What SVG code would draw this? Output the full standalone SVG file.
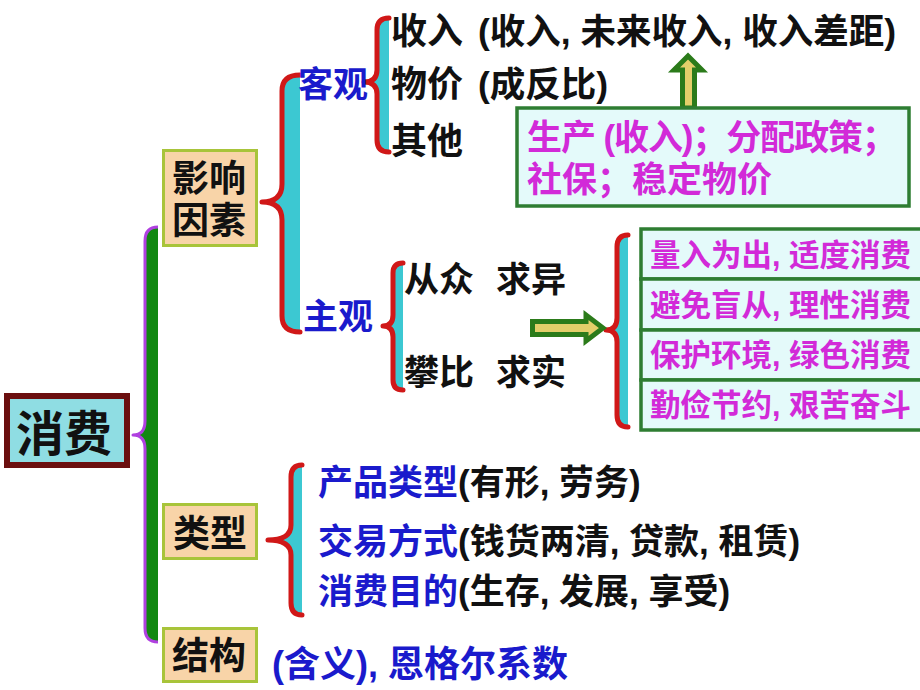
<svg xmlns="http://www.w3.org/2000/svg" width="920" height="690" viewBox="0 0 920 690">
<style>
.t{font-family:"Liberation Sans","Noto Sans CJK SC",sans-serif;font-weight:bold;}
.blk{fill:#111111;}
.blu{fill:#1A1ACC;}
.mag{fill:#D22AD8;}
.peach{fill:#F8D4A8;stroke:#A8C43A;stroke-width:3;}
.gbox{fill:#E4FAFA;stroke:#2E7D32;stroke-width:3.5;}
.rb{fill:none;stroke:#D01818;stroke-width:5;stroke-linecap:round;stroke-linejoin:round;}
.rf{fill:#3CC8D2;stroke:none;}
.arr{fill:#E3CF6A;stroke:#2B7B1A;stroke-width:5;stroke-linejoin:miter;}
</style>
<rect width="920" height="690" fill="#FFFFFF"/>

<g id="connectors">
  <path d="M158,227 Q145,227 145,241 L145,421 Q145,435 133,435 Q145,435 145,449 L145,628 Q145,642 158,642 Z" fill="#118811"/>
  <path d="M158,227 Q145,227 145,241 L145,421 Q145,435 133,435 Q145,435 145,449 L145,628 Q145,642 158,642" fill="none" stroke="#B040E0" stroke-width="3" stroke-linejoin="round"/>
  <path class="rf" d="M300,75 Q282,75 282,91 L282,184 Q282,202 262,202 Q282,202 282,220 L282,316 Q282,332 300,332 Z"/>
  <path class="rb" d="M300,75 Q282,75 282,91 L282,184 Q282,202 262,202 Q282,202 282,220 L282,316 Q282,332 300,332"/>
  <path class="rf" d="M389,18 Q377,18 377,30 L377,70 Q377,82 364,82 Q377,82 377,94 L377,140 Q377,152 389,152 Z"/>
  <path class="rb" d="M389,18 Q377,18 377,30 L377,70 Q377,82 364,82 Q377,82 377,94 L377,140 Q377,152 389,152"/>
  <path class="rf" d="M403,263 Q393,263 393,273 L393,315 Q393,326 383,326 Q393,326 393,337 L393,380 Q393,390 403,390 Z"/>
  <path class="rb" d="M403,263 Q393,263 393,273 L393,315 Q393,326 383,326 Q393,326 393,337 L393,380 Q393,390 403,390"/>
  <path class="rf" d="M628,235 Q617,235 617,247 L617,318 Q617,330 606,330 Q617,330 617,342 L617,415 Q617,427 628,427 Z"/>
  <path class="rb" d="M628,235 Q617,235 617,247 L617,318 Q617,330 606,330 Q617,330 617,342 L617,415 Q617,427 628,427"/>
  <path class="rf" d="M302,465 Q291,465 291,477 L291,525 Q291,540 268,540 Q291,540 291,555 L291,603 Q291,615 302,615 Z"/>
  <path class="rb" d="M302,465 Q291,465 291,477 L291,525 Q291,540 268,540 Q291,540 291,555 L291,603 Q291,615 302,615"/>
  <polygon class="arr" points="688,56 702,70 694.5,70 694.5,108 682.5,108 682.5,70 674,70"/>
  <polygon class="arr" points="532.5,321.5 586,321.5 586,315 603,328 586,341 586,334.5 532.5,334.5"/>
</g>

<g id="node-xiaofei">
  <rect x="7" y="396" width="120" height="69" fill="#8FDDE3" stroke="#6B0F0F" stroke-width="6"/>
  <text class="t blk" x="16" y="451" font-size="48">消费</text>
</g>

<g id="node-yingxiang">
  <rect class="peach" x="163.5" y="150.5" width="93" height="95"/>
  <text class="t blk" x="172" y="192" font-size="37">影响</text>
  <text class="t blk" x="172" y="234" font-size="37">因素</text>
</g>

<g id="node-keguan">
  <text class="t blu" x="298" y="97" font-size="35">客观</text>
</g>
<g id="node-zhuguan">
  <text class="t blu" x="303" y="329" font-size="35">主观</text>
</g>

<g id="node-keguan-items">
  <text class="t blk" x="391" y="44" font-size="36">收入</text>
  <text class="t blk" x="478" y="44" font-size="35.5">(收入, 未来收入, 收入差距)</text>
  <text class="t blk" x="391" y="97" font-size="36">物价</text>
  <text class="t blk" x="478" y="97" font-size="35.5">(成反比)</text>
  <text class="t blk" x="391" y="154" font-size="36">其他</text>
</g>

<g id="node-measures">
  <rect class="gbox" x="517" y="108" width="392" height="98"/>
  <text class="t mag" x="527" y="150" font-size="35" textLength="370" lengthAdjust="spacing">生产 (收入)；分配政策；</text>
  <text class="t mag" x="527" y="192" font-size="35">社保；稳定物价</text>
</g>

<g id="node-zhuguan-items">
  <text class="t blk" x="404" y="292" font-size="35">从众</text>
  <text class="t blk" x="496" y="292" font-size="35">求异</text>
  <text class="t blk" x="404" y="385" font-size="35">攀比</text>
  <text class="t blk" x="496" y="385" font-size="35">求实</text>
</g>

<g id="node-principles">
  <rect class="gbox" x="641" y="229" width="290" height="50"/>
  <rect class="gbox" x="641" y="279" width="290" height="51"/>
  <rect class="gbox" x="641" y="330" width="290" height="50"/>
  <rect class="gbox" x="641" y="380" width="290" height="50"/>
  <text class="t mag" x="650" y="266" font-size="30.5">量入为出, 适度消费</text>
  <text class="t mag" x="650" y="316" font-size="30.5">避免盲从, 理性消费</text>
  <text class="t mag" x="650" y="366" font-size="30.5">保护环境, 绿色消费</text>
  <text class="t mag" x="650" y="416" font-size="30.5">勤俭节约, 艰苦奋斗</text>
</g>

<g id="node-leixing">
  <rect class="peach" x="163.5" y="504.5" width="93" height="54"/>
  <text class="t blk" x="173" y="547" font-size="37">类型</text>
</g>

<g id="node-leixing-items">
  <text class="t" x="318" y="495" font-size="35"><tspan class="blu">产品类型</tspan><tspan class="blk">(有形, 劳务)</tspan></text>
  <text class="t" x="318" y="554" font-size="35"><tspan class="blu">交易方式</tspan><tspan class="blk">(钱货两清, 贷款, 租赁)</tspan></text>
  <text class="t" x="318" y="604" font-size="35"><tspan class="blu">消费目的</tspan><tspan class="blk">(生存, 发展, 享受)</tspan></text>
</g>

<g id="node-jiegou">
  <rect class="peach" x="163.5" y="628.5" width="93" height="53"/>
  <text class="t blk" x="172" y="669" font-size="37">结构</text>
  <text class="t blu" x="272" y="677" font-size="36">(含义), 恩格尔系数</text>
</g>
</svg>
